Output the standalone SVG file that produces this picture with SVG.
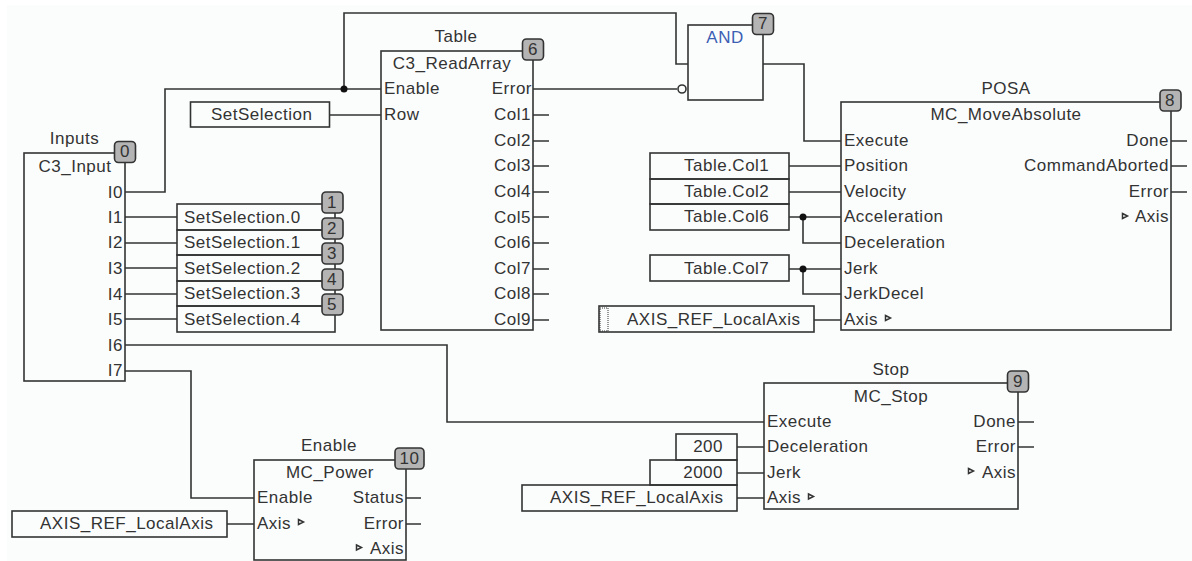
<svg xmlns="http://www.w3.org/2000/svg" width="1192" height="561" viewBox="0 0 1192 561">
<style>
.b{fill:none;stroke:#333;stroke-width:1.6}
.w{fill:none;stroke:#333;stroke-width:1.6}
.bd{fill:#b4b4b4;stroke:#333;stroke-width:1.6}
text{font-family:"Liberation Sans",Arial,sans-serif;font-size:17px;letter-spacing:.5px;fill:#333}
.m{text-anchor:middle}.e{text-anchor:end}
.tr{fill:#fbfdfd;stroke:#333;stroke-width:1.5}
</style>
<rect width="1192" height="561" fill="#fff"/>
<rect x="7" y="5" width="1185" height="556" fill="#fbfdfd"/>
<g id="connectors">
<path class="w" d="M125 192H165V89H381M344 89V13H676V64H688M533 89H677M763 64H804V141H841"/>
<circle cx="344" cy="89" r="3.5" fill="#111"/>
<circle cx="682" cy="89" r="4" fill="#fbfdfd" stroke="#333" stroke-width="1.6"/>
<path class="w" d="M329 115H381M125 217H177M125 243H177M125 268H177M125 294H177M125 319H177"/>
<path class="w" d="M125 345H447V422H764M125 371H191V498H254M227 524H254"/>
<path class="w" d="M789 166H841M789 192H841M789 217H841M803 217V243H841M789 269H841M803 269V294H841M814 320H841"/>
<circle cx="803" cy="217" r="3.5" fill="#111"/>
<circle cx="803" cy="269" r="3.5" fill="#111"/>
<path class="w" d="M737 447H764M737 473H764M737 498H764"/>
<path class="w" d="M533 115H549M533 141H549M533 166H549M533 192H549M533 217H549M533 243H549M533 269H549M533 294H549M533 320H549"/>
<path class="w" d="M1171 141H1187M1171 166H1187M1171 192H1187M1018 422H1034M1018 447H1034M406 498H421M406 524H421"/>
</g>
<g id="node-0">
<rect class="b" x="24" y="153" width="101" height="228"/>
<rect class="bd" x="114.500" y="141.500" width="21" height="21" rx="4"/>
<text class="m" x="125" y="157">0</text>
<text class="m" x="74.500" y="144">Inputs</text>
<text class="m" x="75" y="172">C3_Input</text>
<text class="e" x="123" y="198">I0</text><text class="e" x="123" y="223">I1</text><text class="e" x="123" y="248">I2</text><text class="e" x="123" y="274">I3</text><text class="e" x="123" y="300">I4</text><text class="e" x="123" y="325">I5</text><text class="e" x="123" y="351">I6</text><text class="e" x="123" y="376">I7</text>
</g>
<g id="var-setselection">
<rect class="b" x="190.500" y="102" width="139" height="25"/>
<text x="211" y="120">SetSelection</text>
</g>
<g id="node-1"><rect class="b" x="177" y="204" width="158" height="26"/><rect class="bd" x="322" y="192" width="21" height="21" rx="4"/><text class="m" x="332" y="208">1</text><text x="184" y="223">SetSelection.0</text></g>
<g id="node-2"><rect class="b" x="177" y="230" width="158" height="25"/><rect class="bd" x="322" y="218" width="21" height="21" rx="4"/><text class="m" x="332" y="234">2</text><text x="184" y="248">SetSelection.1</text></g>
<g id="node-3"><rect class="b" x="177" y="255" width="158" height="26"/><rect class="bd" x="322" y="243" width="21" height="21" rx="4"/><text class="m" x="332" y="259">3</text><text x="184" y="274">SetSelection.2</text></g>
<g id="node-4"><rect class="b" x="177" y="281" width="158" height="25"/><rect class="bd" x="322" y="269" width="21" height="21" rx="4"/><text class="m" x="332" y="285">4</text><text x="184" y="299">SetSelection.3</text></g>
<g id="node-5"><rect class="b" x="177" y="306" width="158" height="26"/><rect class="bd" x="322" y="294" width="21" height="21" rx="4"/><text class="m" x="332" y="310">5</text><text x="184" y="325">SetSelection.4</text></g>
<g id="node-6">
<rect class="b" x="381" y="51" width="152" height="279"/>
<rect class="bd" x="522.500" y="39" width="21" height="21" rx="4"/>
<text class="m" x="533" y="55">6</text>
<text class="m" x="456" y="42">Table</text>
<text class="m" x="452" y="69">C3_ReadArray</text>
<text x="384" y="94">Enable</text><text x="384" y="120">Row</text>
<text class="e" x="532" y="94">Error</text><text class="e" x="531" y="120">Col1</text><text class="e" x="531" y="146">Col2</text><text class="e" x="531" y="171">Col3</text><text class="e" x="531" y="197">Col4</text><text class="e" x="531" y="223">Col5</text><text class="e" x="531" y="248">Col6</text><text class="e" x="531" y="274">Col7</text><text class="e" x="531" y="299">Col8</text><text class="e" x="531" y="325">Col9</text>
</g>
<g id="node-7">
<rect class="b" x="688" y="25" width="75" height="75"/>
<rect class="bd" x="752.500" y="13.500" width="21" height="21" rx="4"/>
<text class="m" x="763" y="29">7</text>
<text class="m" x="725" y="43" style="fill:#3c5fb4">AND</text>
</g>
<g id="node-8">
<rect class="b" x="841" y="102" width="330" height="228"/>
<rect class="bd" x="1160" y="90" width="21" height="21" rx="4"/>
<text class="m" x="1170" y="106">8</text>
<text class="m" x="1006" y="94">POSA</text>
<text class="m" x="1006" y="120">MC_MoveAbsolute</text>
<text x="844" y="146">Execute</text><text x="844" y="171">Position</text><text x="844" y="197">Velocity</text><text x="844" y="222">Acceleration</text><text x="844" y="248">Deceleration</text><text x="844" y="274">Jerk</text><text x="844" y="299">JerkDecel</text><text x="844" y="325">Axis</text>
<path class="tr" d="M885.500 315.500L890.500 318L885.500 320.500Z"/>
<text class="e" x="1169" y="146">Done</text><text class="e" x="1169" y="171">CommandAborted</text><text class="e" x="1169" y="197">Error</text><text class="e" x="1169" y="222">Axis</text>
<path class="tr" d="M1122.500 213.500L1127.500 216L1122.500 218.500Z"/>
</g>
<g id="var-col">
<rect class="b" x="650" y="153" width="139" height="26"/><text x="684" y="171">Table.Col1</text>
<rect class="b" x="650" y="179" width="139" height="25"/><text x="684" y="197">Table.Col2</text>
<rect class="b" x="650" y="204" width="139" height="26"/><text x="684" y="222">Table.Col6</text>
<rect class="b" x="650" y="255" width="139" height="26"/><text x="684" y="274">Table.Col7</text>
</g>
<g id="var-axis-1">
<rect class="b" x="599" y="306" width="215" height="26"/>
<rect x="600" y="308" width="8" height="23" fill="none" stroke="#333" stroke-width="1" stroke-dasharray="1 1"/>
<text x="627" y="325">AXIS_REF_LocalAxis</text>
</g>
<g id="node-9">
<rect class="b" x="764" y="383" width="254" height="126"/>
<rect class="bd" x="1007.500" y="371" width="21" height="21" rx="4"/>
<text class="m" x="1018" y="387">9</text>
<text class="m" x="891" y="375">Stop</text>
<text class="m" x="891" y="402">MC_Stop</text>
<text x="767" y="427">Execute</text><text x="767" y="452">Deceleration</text><text x="767" y="478">Jerk</text><text x="767" y="503">Axis</text>
<path class="tr" d="M808.500 494L813.500 496.500L808.500 499Z"/>
<text class="e" x="1016" y="427">Done</text><text class="e" x="1016" y="452">Error</text><text class="e" x="1016" y="478">Axis</text>
<path class="tr" d="M968.500 468.500L973.500 471L968.500 473.500Z"/>
</g>
<g id="var-stop">
<rect class="b" x="676" y="434" width="61" height="26"/><text class="e" x="723" y="452">200</text>
<rect class="b" x="650" y="460" width="87" height="25"/><text class="e" x="723" y="478">2000</text>
<rect class="b" x="522" y="485" width="215" height="26"/><text x="550" y="503">AXIS_REF_LocalAxis</text>
</g>
<g id="node-10">
<rect class="b" x="254" y="460" width="152" height="100"/>
<rect class="bd" x="395" y="448" width="29" height="21" rx="4"/>
<text class="m" x="409.500" y="464">10</text>
<text class="m" x="329" y="451">Enable</text>
<text class="m" x="330" y="478">MC_Power</text>
<text x="257" y="503">Enable</text><text x="257" y="529">Axis</text>
<path class="tr" d="M298.500 519.500L303.500 522L298.500 524.500Z"/>
<text class="e" x="404" y="503">Status</text><text class="e" x="404" y="529">Error</text><text class="e" x="404" y="554">Axis</text>
<path class="tr" d="M356.500 545L361.500 547.500L356.500 550Z"/>
</g>
<g id="var-axis-3">
<rect class="b" x="12" y="511" width="215" height="26"/>
<text x="40" y="529">AXIS_REF_LocalAxis</text>
</g>
</svg>
